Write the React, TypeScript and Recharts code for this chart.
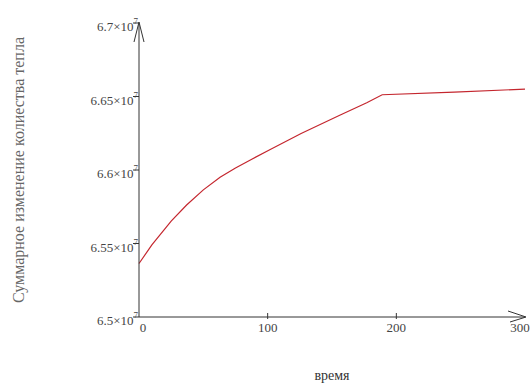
import { LineChart, Line, XAxis, YAxis, ReferenceDot } from "recharts";

// time values and total heat change
const times = [0, 10, 25, 37, 50, 63, 75, 88, 102, 126, 156, 177, 189, 245, 300];
const heatTotals = [
  65364000, 65490000, 65652000, 65762000, 65865000, 65951000, 66013000,
  66075000, 66139000, 66248000, 66372000, 66458000, 66512000, 66530000, 66550000,
];

const xTicks = [0, 100, 200, 300];
const yTicks = [65000000, 65500000, 66000000, 66500000, 67000000];
const yTickLabels = ["6.5", "6.55", "6.6", "6.65", "6.7"];

const data = times.map((t, i) => ({ t, q: heatTotals[i] }));

const FONT = "'Liberation Serif', 'Times New Roman', serif";
const AXIS = "#333";
const TEXT = "#444";

const YTick = (props: any) => {
  const { x, y, payload } = props;
  const idx = yTicks.indexOf(payload.value);
  return (
    <g>
      <line x1={x - 6} x2={x} y1={y} y2={y} stroke={AXIS} />
      <text x={x - 1} y={y + 8} textAnchor="end" style={{ fontFamily: FONT, fontSize: 13 }} fill={TEXT}>
        <tspan>{yTickLabels[idx]}×10</tspan>
        <tspan dy={-7} style={{ fontSize: 9 }}>7</tspan>
      </text>
    </g>
  );
};

const XTick = (props: any) => {
  const { x, y, payload } = props;
  const v = payload.value;
  return (
    <g>
      {v > 0 && v < 300 && <line x1={x} x2={x} y1={y - 4} y2={y + 2} stroke={AXIS} />}
      <text x={v === 0 ? x + 4 : x} y={y + 15} textAnchor="middle" style={{ fontFamily: FONT, fontSize: 13 }} fill={TEXT}>
        {v}
      </text>
    </g>
  );
};

const UpArrow = (props: any) => {
  const { cx, cy } = props;
  return <path d={`M${cx - 5},${cy + 19} L${cx},${cy - 1} L${cx + 5},${cy + 19}`} stroke={AXIS} fill="none" />;
};

const RightArrow = (props: any) => {
  const { cx, cy } = props;
  return <path d={`M${cx - 17},${cy - 6} L${cx + 1},${cy} L${cx - 15},${cy + 5}`} stroke={AXIS} fill="none" />;
};

export default function App() {
  return (
    <div style={{ position: "absolute", left: 0, top: 0, background: "#fff" }}>
      <LineChart width={532} height={383} data={data} margin={{ top: 23, right: 7, bottom: 0, left: 0 }}>
        <XAxis
          dataKey="t"
          type="number"
          domain={[0, 300]}
          ticks={xTicks}
          height={66}
          axisLine={{ stroke: AXIS }}
          tickLine={false}
          tickSize={0}
          tickMargin={0}
          tick={<XTick />}
          label={{ value: "время", position: "insideBottom", offset: 3, style: { fontFamily: FONT, fontSize: 14 }, fill: "#333" }}
        />
        <YAxis
          type="number"
          domain={[65000000, 67000000]}
          ticks={yTicks}
          width={139}
          axisLine={{ stroke: AXIS }}
          tickLine={false}
          tickSize={0}
          tickMargin={0}
          tick={<YTick />}
          label={{
            value: "Суммарное изменение колиества тепла",
            angle: -90,
            position: "insideLeft",
            offset: 18,
            style: { textAnchor: "middle", fontFamily: FONT, fontSize: 16 },
            fill: "#666",
          }}
        />
        <Line
          type="linear"
          dataKey="q"
          stroke="#c4262e"
          strokeWidth={1.2}
          dot={false}
          isAnimationActive={false}
        />
        <ReferenceDot x={0} y={67000000} r={0} shape={<UpArrow />} ifOverflow="visible" />
        <ReferenceDot x={300} y={65000000} r={0} shape={<RightArrow />} ifOverflow="visible" />
      </LineChart>
    </div>
  );
}
